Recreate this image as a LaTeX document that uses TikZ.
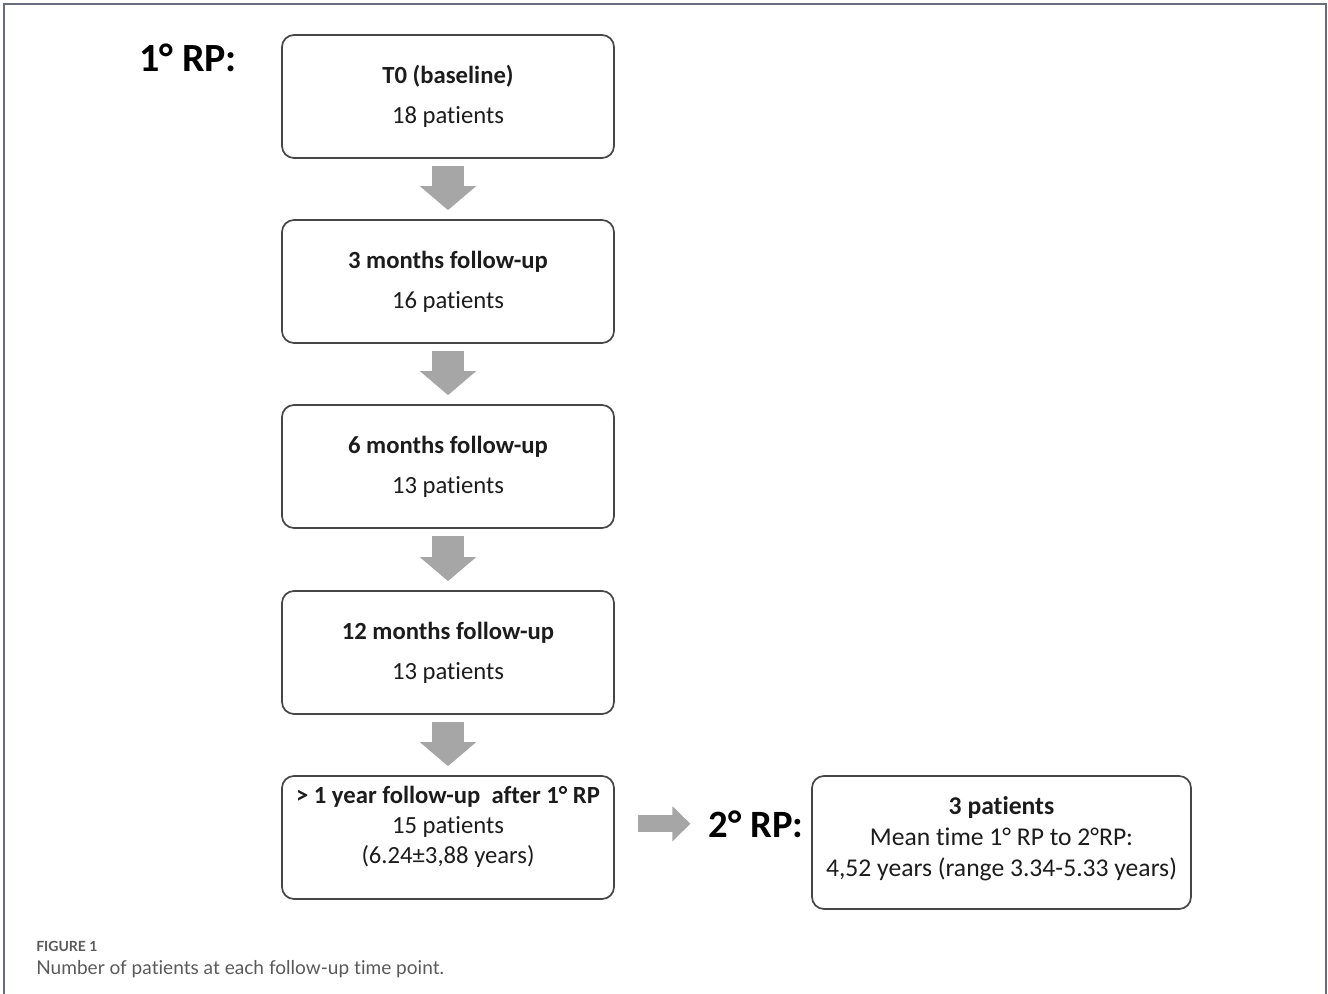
\documentclass[tikz,border=0pt]{standalone}
\usepackage{xcolor}
\usepackage{tikz}
\usepackage{fontspec}
\setmainfont{Carlito}[Ligatures=NoCommon]
\newfontfamily\captionfont{Lato}[Ligatures=NoCommon]
\usetikzlibrary{arrows.meta}
\definecolor{boxLine}   {RGB}{70,  70,  70}
\definecolor{arrowGray} {RGB}{166, 166, 166}
\definecolor{frameGray} {RGB}{105, 108, 122}
\definecolor{capGray}   {RGB}{90,  90,  90}
\definecolor{textDark}  {RGB}{28,  28,  28}

\begin{document}
\begin{tikzpicture}[x=0.75pt,y=-0.75pt,
    stage/.style={draw=boxLine,line width=1.3pt,rounded corners=9pt,
      minimum width=249pt,minimum height=92.25pt,inner sep=0pt,
      align=center,text=textDark,font=\fontsize{18.5}{30}\selectfont},
    rplabel/.style={inner sep=0pt,anchor=base,font=\fontsize{30}{32}\selectfont\bfseries},
    downarrow/.style={arrowGray,line width=24pt,
      -{Triangle[width=41.25pt,length=18pt]},shorten <=5.25pt,shorten >=6.75pt},
    sidearrow/.style={arrowGray,line width=12.75pt,
      -{Triangle[width=25.5pt,length=13.5pt]},shorten <=17.25pt,shorten >=13.5pt}]

    \useasboundingbox (0,0) rectangle (1328,994);

    % cadre
    \draw[frameGray,line width=1.1pt] (4,994) -- (4,4) -- (1326,4) -- (1326,994);

    % 1er RP
    \node[rplabel] (rp1lab) at (188,72) {1° RP:};

    \node[stage] (t0)  at (448,96.5)  {\textbf{T0 (baseline)}\\18 patients};
    \node[stage] (m3)  at (448,281.5) {\textbf{3 months follow-up}\\16 patients};
    \node[stage] (m6)  at (448,466.5) {\textbf{6 months follow-up}\\13 patients};
    \node[stage] (m12) at (448,652.5) {\textbf{12 months follow-up}\\13 patients};
    \node[stage,font=\fontsize{18.5}{22.5}\selectfont] (y1) at (448,837.5)
      {\textbf{> 1 year follow-up\ \ after 1° RP}\\15 patients\\(6.24±3,88 years)\\[-4pt]\mbox{}};

    % 2e RP
    \node[rplabel,font=\fontsize{29}{32}\selectfont\bfseries] (rp2lab) at (756,837) {2° RP:};
    \node[stage,minimum width=284.25pt,minimum height=99.75pt,
      font=\fontsize{19.2}{23}\selectfont] (rp2) at (1001.5,842.5)
      {\textbf{3 patients}\\Mean time 1° RP to 2°RP:\\4,52 years (range 3.34-5.33 years)\\[-14pt]\mbox{}};

    % fleches
    \draw[downarrow] (t0)  -- (m3);
    \draw[downarrow] (m3)  -- (m6);
    \draw[downarrow] (m6)  -- (m12);
    \draw[downarrow] (m12) -- (y1);
    \draw[sidearrow] (y1.east |- rp2lab.west) -- (rp2lab.west);

    % legende
    \node[anchor=base west,inner sep=0pt,text=capGray,font=\captionfont\fontsize{10.5}{12}\selectfont\bfseries]
      (figlab) at (36,951) {FIGURE 1};
    \node[anchor=base west,inner sep=0pt,text=capGray,font=\captionfont\fontsize{14.3}{16}\selectfont]
      (figcap) at (36,974) {Number of patients at each follow-up time point.};

\end{tikzpicture}
\end{document}
